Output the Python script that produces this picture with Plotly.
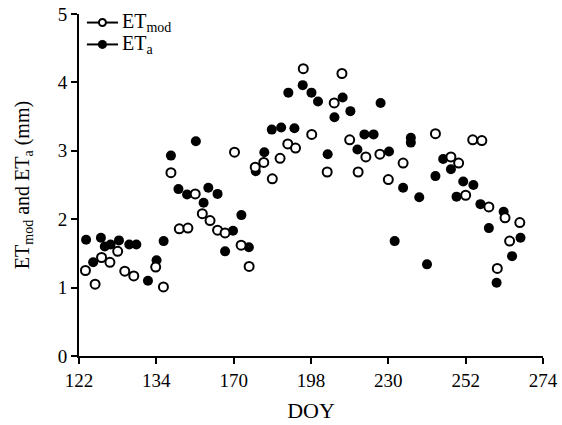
import numpy as np
import plotly.graph_objects as go

# Tick labels of the (piecewise) DOY axis
tick_doy = [122, 134, 170, 198, 230, 252, 274]

# ET_a (filled circles)
doy_a = [123.1, 124.2, 125.4, 126.0, 126.9, 128.2, 129.8, 130.9,
         132.7, 134.1, 137.4, 140.8, 144.3, 148.3, 152.4, 156.0, 158.2, 162.5, 166.0, 169.7,
         172.8, 175.5, 178.0, 181.1, 183.8, 187.2, 189.8, 192.0, 195.0,
         198.2, 200.9, 204.9, 207.7, 211.1, 214.3, 217.2, 220.1, 223.9, 226.8,
         230.2, 231.8, 234.2, 236.4, 236.4, 238.8, 241.0, 243.4, 245.6, 247.8, 249.4, 251.3,
         254.2, 256.2, 258.6, 260.8, 262.8, 265.2, 267.6]
et_a = [1.70, 1.37, 1.73, 1.60, 1.63, 1.69, 1.63, 1.63,
        1.10, 1.40, 1.68, 2.93, 2.44, 2.36, 3.14, 2.24, 2.46, 2.37, 1.53, 1.83,
        2.06, 1.59, 2.70, 2.98, 3.31, 3.34, 3.85, 3.33, 3.96,
        3.85, 3.72, 2.95, 3.49, 3.78, 3.58, 3.02, 3.24, 3.24, 3.70,
        2.99, 1.68, 2.46, 3.19, 3.12, 2.32, 1.34, 2.63, 2.88, 2.73, 2.33, 2.55,
        2.50, 2.22, 1.87, 1.07, 2.11, 1.46, 1.73]

# ET_mod (open circles)
doy_mod = [123.0, 124.5, 125.5, 126.8, 128.0, 129.1, 130.5,
           133.9, 137.3, 140.8, 144.7, 148.7, 152.1, 155.4, 159.0, 162.5, 166.0,
           170.3, 172.7, 175.6, 177.8, 180.9, 184.0, 186.8, 189.6, 192.4, 195.2,
           198.3, 204.7, 207.6, 210.8, 214.0, 217.5, 220.7, 226.5,
           230.0, 234.2, 243.4, 247.8, 250.0,
           252.0, 254.0, 256.6, 258.6, 261.0, 263.2, 264.5, 267.4]
et_mod = [1.25, 1.05, 1.44, 1.37, 1.53, 1.24, 1.17,
          1.30, 1.01, 2.68, 1.86, 1.87, 2.37, 2.08, 1.98, 1.84, 1.80,
          2.98, 1.62, 1.31, 2.76, 2.83, 2.59, 2.89, 3.10, 3.04, 4.20,
          3.24, 2.69, 3.70, 4.13, 3.16, 2.69, 2.91, 2.95,
          2.58, 2.82, 3.25, 2.91, 2.82,
          2.35, 3.16, 3.15, 2.18, 1.28, 2.02, 1.68, 1.95]

series_names = ["ET<sub>mod</sub>", "ET<sub>a</sub>"]

tick_pos = list(range(len(tick_doy)))


def to_axis(d):
    return np.interp(d, tick_doy, tick_pos)


FONT = "Liberation Serif"

fig = go.Figure()
fig.add_trace(go.Scatter(
    x=to_axis(doy_a), y=et_a, mode="markers", name=series_names[1], showlegend=False,
    marker=dict(symbol="circle", size=10, color="black", line=dict(width=0))))
fig.add_trace(go.Scatter(
    x=to_axis(doy_mod), y=et_mod, mode="markers", name=series_names[0], showlegend=False,
    marker=dict(symbol="circle", size=9, color="white", line=dict(width=2, color="black"))))

# custom legend (line + marker + label) placed inside the top-left corner
legend_rows = [(0.975, "white", 3.5, 2), (0.911, "black", 4.5, 0)]
for (ly, fillc, rad, lw), name in zip(legend_rows, series_names):
    fig.add_shape(type="line", xref="paper", yref="paper",
                  x0=0.017, x1=0.084, y0=ly, y1=ly, line=dict(color="black", width=2))
    fig.add_shape(type="circle", xref="paper", yref="paper",
                  xsizemode="pixel", ysizemode="pixel", xanchor=0.0505, yanchor=ly,
                  x0=-rad, x1=rad, y0=-rad, y1=rad,
                  fillcolor=fillc, line=dict(color="black", width=lw if lw else 0.1))
    fig.add_annotation(xref="paper", yref="paper", x=0.088, y=ly, xanchor="left", yanchor="middle",
                       text=name, showarrow=False, font=dict(family=FONT, size=20, color="black"))

fig.update_layout(
    width=562, height=425,
    margin=dict(l=79, r=19, t=14, b=69),
    paper_bgcolor="white", plot_bgcolor="white",
    font=dict(family=FONT, size=19, color="black"),
    showlegend=False,
)
fig.update_xaxes(
    range=[0, 6], tickmode="array", tickvals=tick_pos, ticktext=[str(t) for t in tick_doy],
    showgrid=False, zeroline=False, showline=True, linecolor="black", linewidth=2,
    ticks="outside", ticklen=6, tickwidth=2, tickcolor="black", automargin=False,
    tickfont=dict(family=FONT, size=19),
    title=dict(text="DOY", font=dict(family=FONT, size=22), standoff=13),
)
fig.update_yaxes(
    range=[0, 5], tickmode="array", tickvals=[0, 1, 2, 3, 4, 5],
    showgrid=False, zeroline=False, showline=True, linecolor="black", linewidth=2,
    ticks="outside", ticklen=6, tickwidth=2, tickcolor="black", automargin=False,
    tickfont=dict(family=FONT, size=19),
    title=dict(text="ET<sub>mod</sub> and ET<sub>a</sub> (mm)", font=dict(family=FONT, size=20), standoff=23),
)

fig.write_html("out.html")
